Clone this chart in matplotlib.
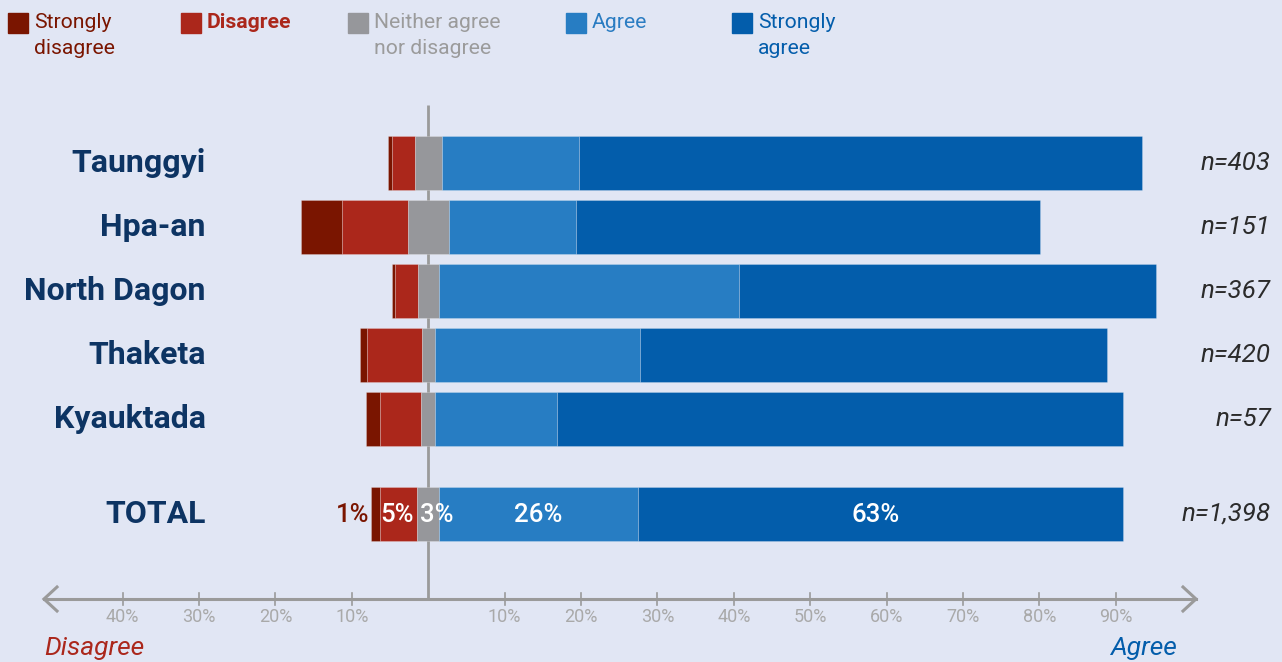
import matplotlib
matplotlib.use("Agg")
import matplotlib.pyplot as plt
import numpy as np

# ---------------- data ----------------
categories = ["Taunggyi", "Hpa-an", "North Dagon", "Thaketa", "Kyauktada", "TOTAL"]
n_labels = ["n=403", "n=151", "n=367", "n=420", "n=57", "n=1,398"]
strongly_disagree = [0.5, 5.4, 0.35, 0.9, 1.8, 1.1]
disagree = [3.0, 8.6, 3.05, 7.2, 5.4, 4.9]
neutral = [3.5, 5.4, 2.7, 1.7, 1.8, 2.9]
agree = [18.0, 16.7, 39.3, 26.9, 15.9, 26.0]
strongly_agree = [73.7, 60.7, 54.6, 61.1, 74.2, 63.5]
total_labels = ["1%", "5%", "3%", "26%", "63%"]
neg_ticks = [-40, -30, -20, -10]
pos_ticks = [10, 20, 30, 40, 50, 60, 70, 80, 90]
legend_labels = ["Strongly\ndisagree", "Disagree", "Neither agree\nnor disagree", "Agree", "Strongly\nagree"]

# ---------------- style ----------------
W, H = 1282, 662
BG = "#e1e6f4"
C_SD = "#7a1500"
C_D = "#ab271b"
C_N = "#96979b"
C_A = "#277dc3"
C_SA = "#035dab"
NAVY = "#0d3463"
AXG = "#9a9a9a"
TICKG = "#a9a9a9"

plt.rcParams['font.family'] = ['Roboto', 'DejaVu Sans']

fig = plt.figure(figsize=(W / 100, H / 100), dpi=100, facecolor=BG)
ax = fig.add_axes([0, 0, 1, 1], facecolor=BG)
ax.set_axis_off()

X0 = 428.2      # pixel of zero
PX_PER = 7.64   # pixels per percent
def px(xpix):
    return (xpix - X0) / PX_PER

ax.set_xlim(px(0), px(W))
ax.set_ylim(H, 0)

# bar row positions (pixel y centres)
row_y = [163 + 64 * i for i in range(5)] + [163 + 64 * 4 + 95]
bar_h = 54

sd = np.array(strongly_disagree)
d = np.array(disagree)
nn = np.array(neutral)
a = np.array(agree)
sa = np.array(strongly_agree)

n_left = -nn / 2
d_left = n_left - d
sd_left = d_left - sd
a_left = nn / 2
sa_left = a_left + a

edge = dict(edgecolor=(1, 1, 1, 0.25), linewidth=0.6)
ax.barh(row_y, sd, left=sd_left, height=bar_h, color=C_SD, zorder=3, **edge)
ax.barh(row_y, d, left=d_left, height=bar_h, color=C_D, zorder=3, **edge)
ax.barh(row_y, nn, left=n_left, height=bar_h, color=C_N, zorder=3, **edge)
ax.barh(row_y, a, left=a_left, height=bar_h, color=C_A, zorder=3, **edge)
ax.barh(row_y, sa, left=sa_left, height=bar_h, color=C_SA, zorder=3, **edge)

# zero line
ax.plot([0, 0], [105, 599], color=AXG, lw=2, zorder=2, solid_capstyle='butt')

# bottom axis with arrows
ay = 599
ax.plot([px(44), px(1196)], [ay, ay], color=AXG, lw=2.2, zorder=2)
ax.plot([px(57), px(44), px(57)], [587, ay, 611], color=AXG, lw=2.2, zorder=2,
        solid_joinstyle='miter')
ax.plot([px(1183), px(1196), px(1183)], [587, ay, 611], color=AXG, lw=2.2, zorder=2,
        solid_joinstyle='miter')
for t in neg_ticks + pos_ticks:
    ax.plot([t, t], [593, 605], color=AXG, lw=1.2, zorder=2)
    ax.text(t, 617, f"{abs(t)}%", ha='center', va='center', fontsize=13,
            color=TICKG, fontweight='normal')

ax.text(px(44), 648, "Disagree", ha='left', va='center', fontsize=19,
        style='italic', color=C_D)
ax.text(px(1177), 648, "Agree", ha='right', va='center', fontsize=19,
        style='italic', color=C_SA)

# category labels and n labels
for i, (cat, nl) in enumerate(zip(categories, n_labels)):
    ax.text(px(206), row_y[i], cat, ha='right', va='center', fontsize=23,
            fontweight='bold', color=NAVY)
    ax.text(px(1271), row_y[i], nl, ha='right', va='center', fontsize=18.6,
            style='italic', color="#2b2b2b")

# total labels
ti = len(categories) - 1
ty = row_y[ti] + 1
FS = 18.5
ax.text(sd_left[ti] - 0.3, ty, total_labels[0], ha='right', va='center',
        fontsize=FS, fontweight='medium', color=C_SD)
ax.text(d_left[ti] + d[ti] / 2 - 0.2, ty, total_labels[1], ha='center', va='center',
        fontsize=FS, fontweight='medium', color='white', zorder=4)
ax.text(n_left[ti] + 0.35, ty, total_labels[2], ha='left', va='center',
        fontsize=FS, fontweight='medium', color='white', zorder=4)
ax.text(a_left[ti] + a[ti] / 2, ty, total_labels[3], ha='center', va='center',
        fontsize=FS, fontweight='medium', color='white', zorder=4)
ax.text(sa_left[ti] + sa[ti] / 2 - 0.6, ty, total_labels[4], ha='center', va='center',
        fontsize=FS, fontweight='medium', color='white', zorder=4)

# legend
leg_colors = [C_SD, C_D, C_N, C_A, C_SA]
leg_text_colors = [C_SD, C_D, "#9b9b9b", "#2a7cc2", C_SA]
leg_weights = ['normal', 'bold', 'normal', 'normal', 'normal']
leg_x = [8, 181, 348, 566, 732]
for lx, c, tc, lab, w in zip(leg_x, leg_colors, leg_text_colors, legend_labels, leg_weights):
    ax.add_patch(plt.Rectangle((px(lx), 13), 20 / PX_PER, 20, color=c, zorder=3))
    ax.text(px(lx + 26), 13.5, lab, ha='left', va='top', fontsize=15.2,
            color=tc, fontweight=w, linespacing=1.42)

fig.savefig("out.png", dpi=100, facecolor=BG)
